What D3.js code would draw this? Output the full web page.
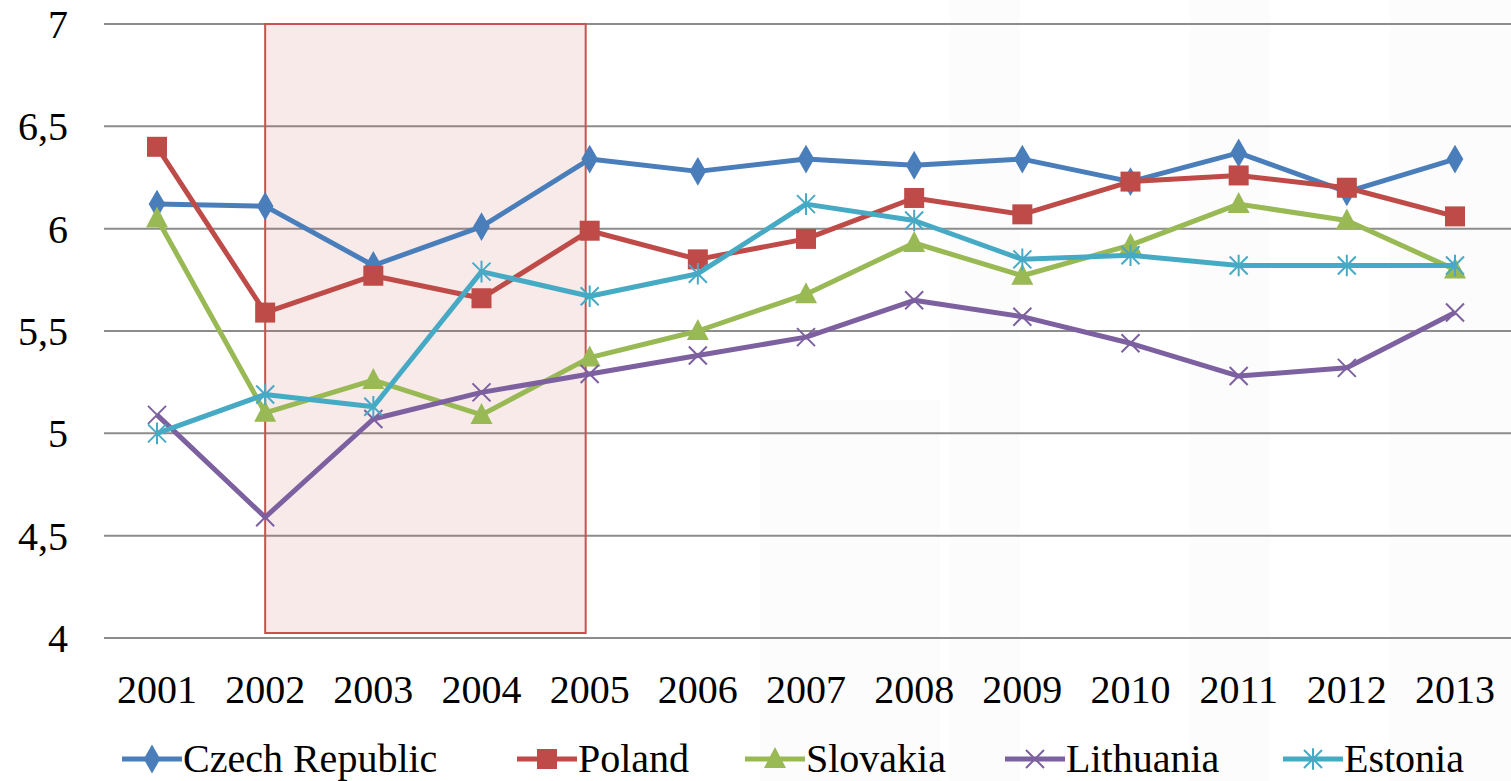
<!DOCTYPE html>
<html>
<head>
<meta charset="utf-8">
<script src="https://cdn.jsdelivr.net/npm/d3@7"></script>
<style>
body { margin: 0; background: #fff; }
</style>
</head>
<body>
<div id="chart"></div>
<script>
var years = [2001, 2002, 2003, 2004, 2005, 2006, 2007, 2008, 2009, 2010, 2011, 2012, 2013];
var yTicks = [4, 4.5, 5, 5.5, 6, 6.5, 7];
var czech = [6.12, 6.11, 5.82, 6.01, 6.34, 6.28, 6.34, 6.31, 6.34, 6.23, 6.37, 6.18, 6.34];
var poland = [6.40, 5.59, 5.77, 5.66, 5.99, 5.85, 5.95, 6.15, 6.07, 6.23, 6.26, 6.20, 6.06];
var slovakia = [6.05, 5.10, 5.26, 5.09, 5.37, 5.50, 5.68, 5.93, 5.77, 5.92, 6.12, 6.04, 5.80];
var lithuania = [5.09, 4.59, 5.07, 5.20, 5.29, 5.38, 5.47, 5.65, 5.57, 5.44, 5.28, 5.32, 5.59];
var estonia = [5.00, 5.19, 5.13, 5.79, 5.67, 5.78, 6.12, 6.04, 5.85, 5.87, 5.82, 5.82, 5.82];
var highlight = [2002, 2005];

var series = [
    {name: "Czech Republic", values: czech, color: "#4a7ebb", marker: "diamond"},
    {name: "Poland", values: poland, color: "#be4b48", marker: "square"},
    {name: "Slovakia", values: slovakia, color: "#98b954", marker: "triangle"},
    {name: "Lithuania", values: lithuania, color: "#7d60a0", marker: "x"},
    {name: "Estonia", values: estonia, color: "#46aac5", marker: "star"}
];

var W = 1511, H = 781;
var FONT = "Liberation Serif, Times New Roman, Times, serif";
var svg = d3.select("#chart").append("svg").attr("width", W).attr("height", H)
    .style("display", "block").attr("font-family", FONT);

var x = d3.scalePoint().domain(years).range([157, 1455]);
var y = d3.scaleLinear().domain([4, 7]).range([638, 24]);

// faint watermark in the background (right side)
var wm = svg.append("g").attr("fill", "#fcfcfc");
wm.append("rect").attr("x", 760).attr("y", 400).attr("width", 180).attr("height", 381);
wm.append("rect").attr("x", 950).attr("y", 0).attr("width", 70).attr("height", 781);
wm.append("rect").attr("x", 1190).attr("y", 0).attr("width", 80).attr("height", 781);
wm.append("rect").attr("x", 1390).attr("y", 0).attr("width", 121).attr("height", 781);

// gridlines
svg.append("g").selectAll("line").data(yTicks).enter().append("line")
    .attr("x1", 104).attr("x2", W).attr("y1", d => y(d)).attr("y2", d => y(d))
    .attr("stroke", "#8c8c8c").attr("stroke-width", 2);

// highlight box 2002-2005
svg.append("rect")
    .attr("x", x(highlight[0])).attr("y", y(7))
    .attr("width", x(highlight[1]) - x(highlight[0]) - 4)
    .attr("height", y(4) - y(7) - 5)
    .attr("fill", "rgba(192,80,77,0.12)").attr("stroke", "#c9524f").attr("stroke-width", 2);

// y tick labels
svg.append("g").selectAll("text").data(yTicks).enter().append("text")
    .attr("x", 68).attr("y", d => y(d) + 14).attr("text-anchor", "end")
    .attr("font-size", 40).attr("fill", "#000").style("font-family", FONT)
    .text(d => d3.format(".1~f")(d).replace(".", ","));

// x tick labels
svg.append("g").selectAll("text").data(years).enter().append("text")
    .attr("x", d => x(d)).attr("y", 703).attr("text-anchor", "middle")
    .attr("font-size", 40).attr("fill", "#000").style("font-family", FONT).text(d => d);

function drawMarker(g, type, color, cx, cy, s) {
    if (type === "diamond") {
        g.append("path").attr("d", d3.symbol(d3.symbolDiamond, s * s * 0.6)())
            .attr("transform", "translate(" + cx + "," + cy + ")").attr("fill", color);
    } else if (type === "square") {
        g.append("rect").attr("x", cx - s / 2).attr("y", cy - s / 2).attr("width", s).attr("height", s).attr("fill", color);
    } else if (type === "triangle") {
        g.append("path").attr("d", "M" + cx + "," + (cy - s * 0.6) + "L" + (cx + s * 0.55) + "," + (cy + s * 0.45) + "L" + (cx - s * 0.55) + "," + (cy + s * 0.45) + "Z").attr("fill", color);
    } else if (type === "x") {
        var r = s * 0.45;
        g.append("path").attr("d", "M" + (cx - r) + "," + (cy - r) + "L" + (cx + r) + "," + (cy + r) + "M" + (cx - r) + "," + (cy + r) + "L" + (cx + r) + "," + (cy - r))
            .attr("stroke", color).attr("stroke-width", 2);
    } else if (type === "star") {
        var r2 = s * 0.45;
        g.append("path").attr("d", "M" + (cx - r2) + "," + (cy - r2) + "L" + (cx + r2) + "," + (cy + r2) + "M" + (cx - r2) + "," + (cy + r2) + "L" + (cx + r2) + "," + (cy - r2) + "M" + cx + "," + (cy - r2 * 1.2) + "L" + cx + "," + (cy + r2 * 1.2))
            .attr("stroke", color).attr("stroke-width", 2);
    }
}

var line = d3.line().x((d, i) => x(years[i])).y(d => y(d));

series.forEach(function (s) {
    var g = svg.append("g");
    g.append("path").datum(s.values).attr("d", line)
        .attr("fill", "none").attr("stroke", s.color).attr("stroke-width", 5).attr("stroke-linejoin", "round");
    s.values.forEach(function (v, i) {
        drawMarker(g, s.marker, s.color, x(years[i]), y(v), 20);
    });
});

// legend
var legendX = [122, 517, 745, 1005, 1283];
var legendY = 759;
series.forEach(function (s, i) {
    var g = svg.append("g");
    var lx = legendX[i];
    g.append("line").attr("x1", lx).attr("x2", lx + 60).attr("y1", legendY).attr("y2", legendY)
        .attr("stroke", s.color).attr("stroke-width", 5);
    drawMarker(g, s.marker, s.color, lx + 30, legendY, 20);
    g.append("text").attr("x", lx + 61).attr("y", legendY + 13)
        .attr("font-size", 40).attr("fill", "#000").style("font-family", FONT).text(s.name);
});
</script>
</body>
</html>
